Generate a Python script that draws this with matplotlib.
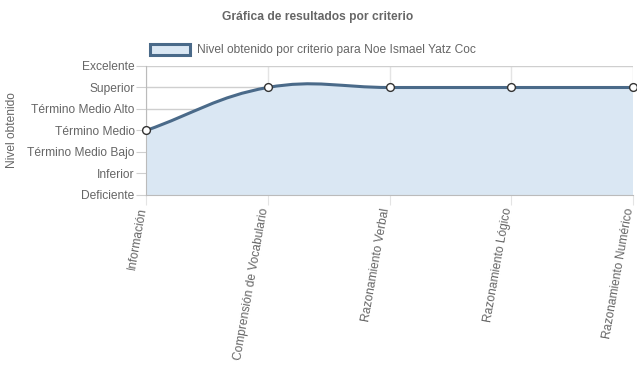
import numpy as np
import matplotlib
matplotlib.use("Agg")
import matplotlib.pyplot as plt
import matplotlib.transforms as mtransforms
from matplotlib.path import Path
from matplotlib.patches import PathPatch, Patch

plt.rcParams['font.family'] = ['Liberation Sans', 'DejaVu Sans']

# data
criterios = ["Información", "Comprensión de Vocabulario", "Razonamiento Verbal",
             "Razonamiento Lógico", "Razonamiento Numérico"]
niveles = ["Deficiente", "Inferior", "Término Medio Bajo", "Término Medio",
           "Término Medio Alto", "Superior", "Excelente"]
valores = [3, 5, 5, 5, 5]
serie = "Nivel obtenido por criterio para Noe Ismael Yatz Coc"

LINE = "#4a6a89"
FILL = "#dae7f3"
TXT = "#666666"
GRID_H = "#cfcfcf"
GRID_V = "#e4e4e4"
FS = 8.64  # 12px

W, H = 637, 389
fig = plt.figure(figsize=(W / 100, H / 100), dpi=100)
ax = fig.add_axes([146 / W, 1 - 195 / H, (633 - 146) / W, (195 - 66) / H])

x = np.arange(len(criterios))
ax.set_xlim(0, len(criterios) - 1)
ax.set_ylim(0, len(niveles) - 1)


def spline_path(xs, ys, tension=0.4):
    # chart.js style bezier, computed in pixel space
    pts = ax.transData.transform(np.column_stack([xs, ys]))
    n = len(pts)
    verts = [pts[0]]
    codes = [Path.MOVETO]
    cps = []
    for i in range(n):
        prev = pts[i - 1] if i > 0 else pts[i]
        cur = pts[i]
        nxt = pts[i + 1] if i < n - 1 else pts[i]
        d01 = np.hypot(*(cur - prev))
        d12 = np.hypot(*(nxt - cur))
        tot = d01 + d12
        s01 = d01 / tot if tot else 0
        s12 = d12 / tot if tot else 0
        fa, fb = tension * s01, tension * s12
        cps.append((cur - fa * (nxt - prev), cur + fb * (nxt - prev)))
    for i in range(n - 1):
        verts += [cps[i][1], cps[i + 1][0], pts[i + 1]]
        codes += [Path.CURVE4] * 3
    verts = ax.transData.inverted().transform(np.array(verts))
    return verts, codes


verts, codes = spline_path(x, valores)
fill_verts = np.vstack([verts, [[x[-1], 0], [x[0], 0], verts[0]]])
fill_codes = codes + [Path.LINETO, Path.LINETO, Path.CLOSEPOLY]
ax.add_patch(PathPatch(Path(fill_verts, fill_codes), facecolor=FILL, edgecolor="none", zorder=1))
ax.add_patch(PathPatch(Path(verts, codes), facecolor="none", edgecolor=LINE, lw=2.2,
                       zorder=3, clip_on=False))
ax.plot(x, valores, "o", ms=5.6, mfc="white", mec="#333333", mew=1, zorder=4, clip_on=False)

ax.set_yticks(range(len(niveles)))
ax.set_yticklabels(niveles, fontsize=FS, color=TXT)
ax.set_xticks(x)
ax.set_xticklabels(criterios, fontsize=FS, color=TXT, rotation=80, ha="right",
                   va="center", rotation_mode="anchor")
ax.tick_params(axis="y", length=7.2, color=GRID_H, pad=1)
ax.tick_params(axis="x", length=7.2, color=GRID_V, pad=2)
# nudge rotated labels a bit left so the last one stays inside
shift = mtransforms.ScaledTranslation(-3 / 100, 0, fig.dpi_scale_trans)
for t in ax.get_xticklabels():
    t.set_transform(t.get_transform() + shift)

ax.yaxis.grid(True, color=GRID_H, lw=1)
ax.xaxis.grid(True, color=GRID_V, lw=1)
ax.set_axisbelow(True)
for s in ["top", "right"]:
    ax.spines[s].set_visible(False)
ax.spines["left"].set_color("#bbbbbb")
ax.spines["bottom"].set_color("#bbbbbb")

fig.text(12 / W, 1 - 130 / H, "Nivel obtenido", rotation=90, ha="center", va="center",
         fontsize=FS, color=TXT)
fig.text(318 / W, 1 - 17 / H, "Gráfica de resultados por criterio", ha="center",
         va="center", fontsize=FS, color=TXT, fontweight="bold")

handle = Patch(facecolor=FILL, edgecolor=LINE, lw=2.2)
fig.legend([handle], [serie], loc="center", bbox_to_anchor=(313 / W, 1 - 50 / H),
           frameon=False, fontsize=FS, labelcolor=TXT, handlelength=3.3,
           handleheight=1.1, handletextpad=0.6, borderpad=0)

fig.savefig("out.png", dpi=100)
